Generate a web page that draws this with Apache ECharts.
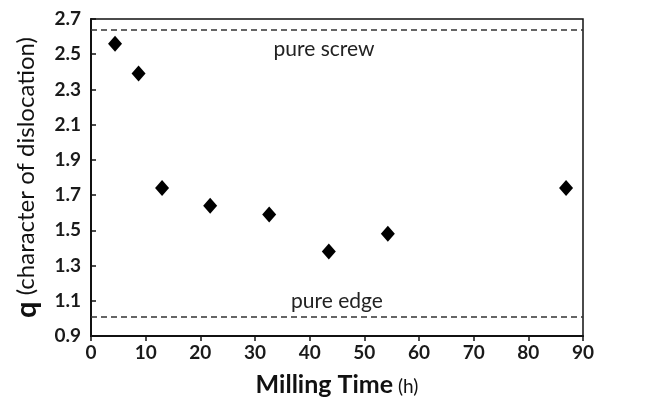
<!DOCTYPE html>
<html>
<head>
<meta charset="utf-8">
<script src="https://cdn.jsdelivr.net/npm/echarts@6/dist/echarts.min.js"></script>
<style>
  html, body { margin: 0; padding: 0; background: #fff; }
  #chart { width: 646px; height: 408px; }
</style>
</head>
<body>
<div id="chart"></div>
<script>
// milling time (h) as positioned in the figure, and q values
const millingTime = [4.4, 8.7, 13, 21.8, 32.6, 43.5, 54.3, 86.9];
const qValues = [2.56, 2.39, 1.74, 1.64, 1.59, 1.38, 1.48, 1.74];
// reference lines
const pureScrew = 2.64;
const pureEdge = 1.01;

const FONT = 'Lato';

const chart = echarts.init(document.getElementById('chart'));

const option = {
    backgroundColor: '#fff',
    animation: false,
    grid: {
        left: 91,
        right: 63,
        top: 19,
        bottom: 72,
        show: true,
        borderColor: '#111',
        borderWidth: 1.5
    },
    xAxis: {
        type: 'value',
        min: 0,
        max: 90,
        interval: 10,
        name: '{b|Milling Time}{n| (h)}',
        nameLocation: 'middle',
        nameGap: 36,
        nameTextStyle: {
            rich: {
                b: { fontFamily: FONT, fontSize: 25, fontWeight: 'bold', color: '#111' },
                n: { fontFamily: FONT, fontSize: 19, color: '#111', padding: [5, 0, 0, 0] }
            }
        },
        axisLine: { lineStyle: { color: '#111', width: 2 } },
        axisTick: { show: true, length: 5, lineStyle: { color: '#111', width: 1.5 } },
        axisLabel: {
            fontFamily: FONT, fontSize: 19, fontWeight: 'bold', color: '#1a1a1a', margin: 7
        },
        splitLine: { show: false }
    },
    yAxis: {
        type: 'value',
        min: 0.9,
        max: 2.7,
        interval: 0.2,
        name: '{b|q}{n| (character of dislocation)}',
        nameLocation: 'middle',
        nameRotate: 90,
        nameGap: 50,
        nameTextStyle: {
            rich: {
                b: { fontFamily: FONT, fontSize: 29, fontWeight: 'bold', color: '#111' },
                n: { fontFamily: FONT, fontSize: 24, color: '#111' }
            }
        },
        axisLine: { show: true, lineStyle: { color: '#111', width: 2 } },
        axisTick: { show: true, inside: true, length: 5, lineStyle: { color: '#111', width: 1.5 } },
        axisLabel: {
            fontFamily: FONT, fontSize: 19, fontWeight: 'bold', color: '#1a1a1a', margin: 10,
            formatter: v => v.toFixed(1)
        },
        splitLine: { show: false }
    },
    series: [{
        type: 'scatter',
        data: millingTime.map((t, i) => [t, qValues[i]]),
        symbol: 'diamond',
        symbolSize: [14, 16],
        itemStyle: { color: '#000', opacity: 1 },
        markLine: {
            silent: true,
            symbol: ['none', 'none'],
            lineStyle: { color: '#333', type: [6, 4], width: 1.5 },
            data: [
                {
                    yAxis: pureScrew,
                    label: {
                        formatter: 'pure screw', position: 'insideMiddleBottom', distance: 9,
                        fontFamily: FONT, fontSize: 21, color: '#222', padding: [0, 26, 0, 0]
                    }
                },
                {
                    yAxis: pureEdge,
                    label: {
                        formatter: 'pure edge', position: 'insideMiddleTop', distance: 5,
                        fontFamily: FONT, fontSize: 21, color: '#222'
                    }
                }
            ]
        }
    }]
};

chart.setOption(option);
</script>
</body>
</html>
